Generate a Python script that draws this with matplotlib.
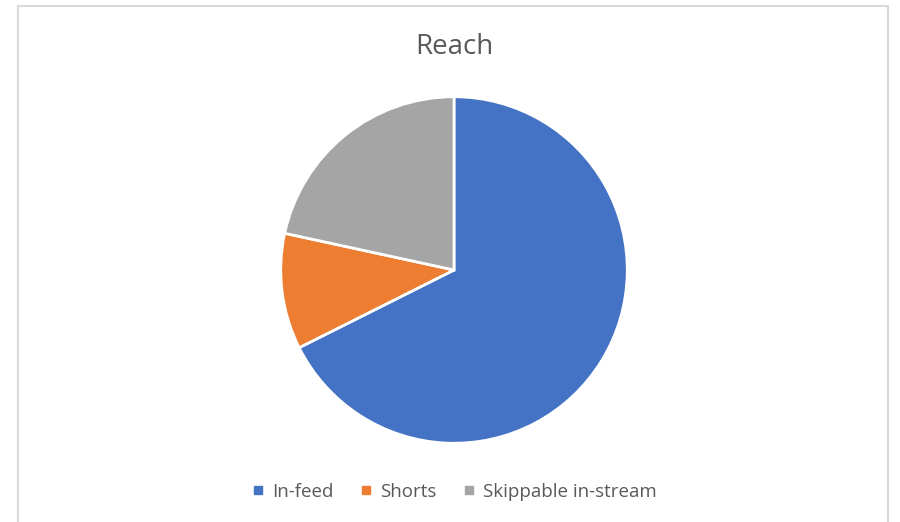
import matplotlib
matplotlib.use("Agg")
import matplotlib.pyplot as plt
from matplotlib.lines import Line2D
from matplotlib.patches import Rectangle

# data (share of reach, %)
labels = ["In-feed", "Shorts", "Skippable in-stream"]
values = [67.6, 10.8, 21.6]
colors = ["#4472C4", "#ED7D31", "#A5A5A5"]

W, H = 900, 522
fig = plt.figure(figsize=(W / 100, H / 100), dpi=100)
fig.patch.set_facecolor("white")

# chart frame (light gray border, bottom runs off the image)
fig.patches.append(Rectangle((18 / W, -0.05), (888 - 18) / W, 1.05 - 6 / H,
                             transform=fig.transFigure, fill=False,
                             edgecolor="#D9D9D9", linewidth=1.5))

cx, cy, r = 454, 270, 175
ax = fig.add_axes([(cx - r) / W, (H - cy - r) / H, 2 * r / W, 2 * r / H])
ax.pie(values, colors=colors, startangle=90, counterclock=False,
       wedgeprops=dict(edgecolor="white", linewidth=2))
ax.set_xlim(-1.01, 1.01)
ax.set_ylim(-1.01, 1.01)
ax.axis("off")

fig.text(cx / W, 1 - 47 / H, "Reach", ha="center", va="center",
         fontsize=20, color="#595959", family="Open Sans")

handles = [Line2D([], [], marker="s", linestyle="none", markersize=6,
                  markerfacecolor=c, markeredgecolor=c) for c in colors]
leg = fig.legend(handles, labels, loc="center", ncol=3,
                 bbox_to_anchor=(cx / W, 1 - 492 / H), frameon=False,
                 handlelength=0.7, handletextpad=0.4, columnspacing=1.4,
                 prop={"family": "Open Sans", "size": 13.5})
for t in leg.get_texts():
    t.set_color("#595959")

fig.savefig("out.png", dpi=100)
